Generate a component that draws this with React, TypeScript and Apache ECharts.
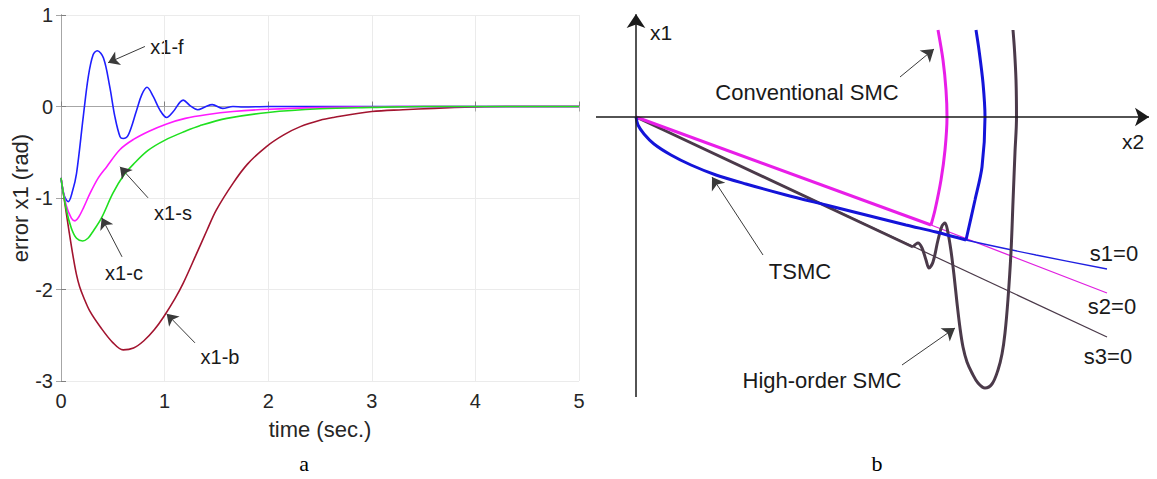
import React, { useEffect, useRef } from "react";
import * as echarts from "echarts";

type Pt = [number, number];

// ---------- Panel a: tracking error x1 (rad) vs time (sec.) ----------
const timeRange: Pt = [0, 5];
const errorRange: Pt = [-3, 1];

const x1f: Pt[] = [
  [0, -0.78], [0.03, -0.97], [0.07, -1.04], [0.11, -0.93], [0.15, -0.73], [0.215, -0.11],
  [0.264, 0.33], [0.31, 0.565], [0.35, 0.61], [0.41, 0.53], [0.47, 0.22], [0.52, -0.11],
  [0.57, -0.33], [0.6, -0.35], [0.65, -0.31], [0.73, -0.04], [0.78, 0.13], [0.83, 0.21],
  [0.89, 0.11], [0.955, -0.04], [1.02, -0.12], [1.08, -0.06], [1.18, 0.07], [1.245, 0.01],
  [1.32, -0.036], [1.39, -0.005], [1.46, 0.02], [1.56, -0.02], [1.66, 0.0], [1.76, -0.005],
  [2.0, 0], [3.0, 0], [4.0, 0], [5.0, 0],
];

const x1s: Pt[] = [
  [0, -0.78], [0.05, -1.08], [0.1, -1.22], [0.135, -1.25], [0.17, -1.21], [0.22, -1.1],
  [0.28, -0.95], [0.36, -0.78], [0.44, -0.66], [0.57, -0.47], [0.7, -0.36], [0.85, -0.27],
  [1.02, -0.19], [1.2, -0.13], [1.4, -0.09], [1.66, -0.055], [2.0, -0.03], [2.5, -0.012],
  [3.0, -0.005], [3.5, 0], [5.0, 0],
];

const x1c: Pt[] = [
  [0, -0.78], [0.05, -1.12], [0.1, -1.33], [0.15, -1.44], [0.21, -1.47], [0.26, -1.44],
  [0.3, -1.38], [0.39, -1.22], [0.5, -0.95], [0.6, -0.76], [0.7, -0.63], [0.84, -0.48],
  [1.0, -0.37], [1.2, -0.27], [1.34, -0.21], [1.6, -0.13], [2.0, -0.065], [2.5, -0.025],
  [3.0, -0.01], [3.5, 0], [5.0, 0],
];

const x1b: Pt[] = [
  [0, -0.78], [0.04, -1.08], [0.08, -1.38], [0.12, -1.66], [0.15, -1.84], [0.18, -1.97],
  [0.22, -2.09], [0.28, -2.24], [0.38, -2.41], [0.5, -2.58], [0.6, -2.66], [0.7, -2.64],
  [0.8, -2.56], [0.9, -2.44], [0.99, -2.3], [1.1, -2.1], [1.18, -1.93], [1.3, -1.63],
  [1.41, -1.35], [1.5, -1.13], [1.66, -0.84], [1.8, -0.63], [1.98, -0.44], [2.15, -0.31],
  [2.31, -0.22], [2.5, -0.15], [2.63, -0.12], [3.0, -0.055], [3.3, -0.035], [3.6, -0.02],
  [4.0, -0.005], [4.3, 0], [5.0, 0],
];

// callout arrows: [tail, head] in (time, error) units
const calloutsA: [Pt, Pt][] = [
  [[0.81, 0.656], [0.454, 0.478]],
  [[0.84, -0.998], [0.569, -0.659]],
  [[0.589, -1.643], [0.393, -1.216]],
  [[1.293, -2.583], [1.02, -2.266]],
];

// ---------- Panel b: phase-plane sketch (x2 across, x1 up; arbitrary units) ----------
const planeX: Pt = [-40, 520];
const planeY: Pt = [-280, 102];
const planeAxes: [Pt, Pt][] = [
  [[-40, 0], [513, 0]],
  [[0, -280], [0, 103]],
];

// terminal SMC trajectory (sliding part) — also the start of surface s1
const tsmcSlide: Pt[] = [
  [0, 0], [2, -8], [8, -17], [18, -27], [35, -38], [55, -48], [80, -58], [110, -67],
  [150, -78], [190, -88], [230, -98], [270, -108], [300, -115], [330, -123],
];
const tsmcReach: Pt[] = [
  [330, -123], [339, -83], [346, -50], [349, 0], [347, 34], [343, 67], [340, 87],
];

// sliding surfaces
const s1Tail: Pt[] = [[400, -138], [471, -152]];
const s2Line: Pt[] = [[0, 0], [295, -108], [471, -176]];
const s3Line: Pt[] = [[0, 0], [471, -220]];

// conventional SMC trajectory
const convSlide: Pt[] = [[0, 0], [295, -108]];
const convReach: Pt[] = [
  [295, -108], [299, -93], [305, -63], [309, -33], [311, 0], [310, 27], [307, 57], [302, 87],
];

// high-order SMC trajectory
const hosmcSlide: Pt[] = [[0, 0], [277, -130]];
const hosmcReach: Pt[] = [
  [277, -130], [282, -126], [286, -131], [290, -143], [293, -151], [297, -145], [302, -123],
  [306, -109], [309, -106], [312, -116], [315, -134], [318, -158], [321, -186], [324, -211],
  [327, -230], [331, -245], [336, -256], [342, -266], [349, -271], [356, -267], [362, -253],
  [366, -237], [369, -216], [372, -182], [375, -135], [377, -85], [379, -35], [380.5, 0],
  [380, 37], [378.5, 67], [377, 87],
];

const calloutsB: [Pt, Pt][] = [
  [[264, 40], [298, 68]],
  [[127, -138], [76, -60]],
  [[266, -248], [319, -211]],
];

const FONT = '"Liberation Sans", Arial, Helvetica, sans-serif';
const SERIF = '"Liberation Serif", "Times New Roman", serif';

function label(text: string, x: number, y: number, size = 20, family = FONT, fill = "#1a1a1a") {
  return {
    type: "text",
    x,
    y,
    style: { text, fontSize: size, fontFamily: family, fill, align: "center", verticalAlign: "middle" },
  };
}

export default function App() {
  const ref = useRef<HTMLDivElement>(null);

  useEffect(() => {
    if (!ref.current) return;
    const chart = echarts.init(ref.current, undefined, { renderer: "svg" });

    const axisGray = "#808080";
    const tickText = { fontSize: 20, fontFamily: FONT, color: "#262626" };

    const curve = (data: Pt[], color: string) => ({
      type: "line",
      xAxisIndex: 0,
      yAxisIndex: 0,
      data,
      showSymbol: false,
      smooth: 0.35,
      lineStyle: { color, width: 1.6 },
    });

    const path = (data: Pt[], color: string, width: number, smooth: number | boolean = false) => ({
      type: "line",
      xAxisIndex: 2,
      yAxisIndex: 2,
      data,
      showSymbol: false,
      smooth,
      clip: false,
      lineStyle: { color, width },
    });

    const arrows = (items: [Pt, Pt][], axis: number, color: string, width: number, size: number) => ({
      type: "lines",
      coordinateSystem: "cartesian2d",
      xAxisIndex: axis,
      yAxisIndex: axis,
      data: items.map(([a, b]) => ({ coords: [a, b] })),
      symbol: ["none", "arrow"],
      symbolSize: size,
      lineStyle: { color, width, opacity: 1 },
      z: 5,
    });

    chart.setOption({
      animation: false,
      backgroundColor: "#ffffff",
      grid: [
        { left: 61, top: 15, width: 518, height: 366 },
        { left: 596, top: 15, width: 560, height: 382 },
      ],
      xAxis: [
        {
          type: "value", gridIndex: 0, min: timeRange[0], max: timeRange[1], interval: 1, position: "bottom",
          axisLine: { lineStyle: { color: axisGray, width: 1 } },
          axisTick: { inside: true, length: 5, lineStyle: { color: axisGray } },
          axisLabel: { ...tickText, margin: 10 },
          splitLine: { show: true, lineStyle: { color: "#ebebeb", width: 1 } },
          name: "time (sec.)", nameLocation: "middle", nameGap: 37,
          nameTextStyle: { fontSize: 22, fontFamily: FONT, color: "#262626", verticalAlign: "top" },
        },
        {
          type: "value", gridIndex: 0, min: timeRange[0], max: timeRange[1], interval: 1, position: "top",
          axisLine: { lineStyle: { color: "#a6a6a6", width: 1 } },
          axisTick: { inside: true, length: 5, lineStyle: { color: "#a6a6a6" } },
          axisLabel: { show: false },
          splitLine: { show: false },
        },
        { type: "value", gridIndex: 1, min: planeX[0], max: planeX[1], show: false },
      ],
      yAxis: [
        {
          type: "value", gridIndex: 0, min: errorRange[0], max: errorRange[1], interval: 1, position: "left",
          axisLine: { show: true, lineStyle: { color: axisGray, width: 1 } },
          axisTick: { show: true, inside: true, length: 5, lineStyle: { color: axisGray } },
          axisLabel: { ...tickText, margin: 8 },
          splitLine: { show: true, lineStyle: { color: "#ebebeb", width: 1 } },
          name: "error x1 (rad)", nameLocation: "middle", nameGap: 29,
          nameTextStyle: { fontSize: 22, fontFamily: FONT, color: "#262626" },
        },
        {
          type: "value", gridIndex: 0, min: errorRange[0], max: errorRange[1], interval: 1, position: "right",
          axisLine: { show: true, lineStyle: { color: "#a6a6a6", width: 1 } },
          axisTick: { show: true, inside: true, length: 5, lineStyle: { color: "#a6a6a6" } },
          axisLabel: { show: false },
          splitLine: { show: false },
        },
        { type: "value", gridIndex: 1, min: planeY[0], max: planeY[1], show: false },
      ],
      series: [
        curve(x1b, "#a2142f"),
        curve(x1f, "#1f1fff"),
        curve(x1s, "#ff1aff"),
        curve(x1c, "#1fe01f"),
        arrows(calloutsA, 0, "#3a3a3a", 1, 11),

        arrows(planeAxes, 2, "#1a1a1a", 1.5, 14),
        path(s3Line, "#4b3a4a", 1.2),
        path(s2Line, "#e020e0", 1.3),
        path([...tsmcSlide, ...s1Tail], "#1f1fe0", 1.3, 0.3),
        path(hosmcSlide, "#4b3a4a", 3),
        path(hosmcReach, "#4b3a4a", 3, 0.35),
        path(convSlide, "#e81ee8", 3),
        path(convReach, "#e81ee8", 3, 0.3),
        path(tsmcSlide, "#1414d9", 3, 0.3),
        path(tsmcReach, "#1414d9", 3, 0.3),
        arrows(calloutsB, 2, "#3a3a3a", 1, 12),
      ],
      graphic: [
        label("x1-f", 167, 47),
        label("x1-s", 173, 213),
        label("x1-c", 124, 273),
        label("x1-b", 220, 357),
        label("a", 304, 463, 22, SERIF, "#000"),
        label("x1", 661, 32, 21),
        label("x2", 1133, 141, 21),
        label("Conventional SMC", 807, 92, 22),
        label("TSMC", 800, 271, 22),
        label("High-order SMC", 822, 380, 22),
        label("s1=0", 1114, 253, 22),
        label("s2=0", 1112, 306, 22),
        label("s3=0", 1108, 356, 22),
        label("b", 877, 463, 22, SERIF, "#000"),
      ],
    });

    return () => chart.dispose();
  }, []);

  return (
    <div
      ref={ref}
      style={{ position: "absolute", left: 0, top: 0, width: 1157, height: 479, background: "#fff" }}
    />
  );
}
